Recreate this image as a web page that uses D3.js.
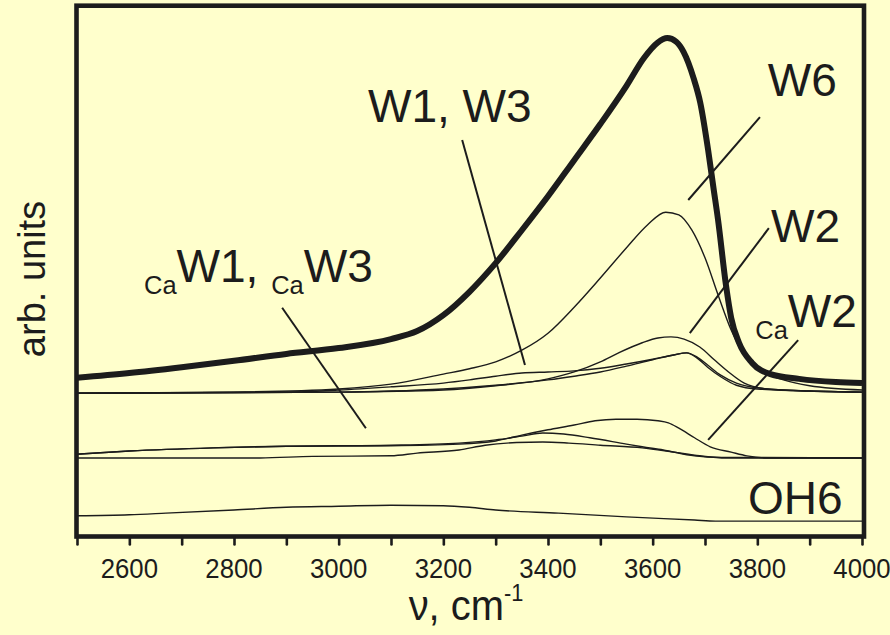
<!DOCTYPE html>
<html>
<head>
<meta charset="utf-8">
<script src="https://cdn.jsdelivr.net/npm/d3@7"></script>
<style>
  html, body { margin: 0; padding: 0; background: #FFFFCC; }
  svg { display: block; }
  text { font-family: "Liberation Sans", Arial, sans-serif; fill: #1c1c1c; }
</style>
</head>
<body>
<svg id="chart" width="890" height="635"></svg>
<script>
// Wavenumber axis (cm^-1)
const xDomain = [2500, 4000];
const xTickValues = [2500, 2600, 2700, 2800, 2900, 3000, 3100, 3200, 3300, 3400, 3500, 3600, 3700, 3800, 3900, 4000];
const xTickLabels = [2600, 2800, 3000, 3200, 3400, 3600, 3800, 4000];
const yDomain = [0, 10];

// Spectra, already vertically offset: [wavenumber, intensity (arb. units)]
const totalSpectrum = [
  [2500, 2.99], [2600, 3.08], [2700, 3.19], [2800, 3.31], [2900, 3.44], [3000, 3.55],
  [3100, 3.72], [3150, 3.87], [3200, 4.17], [3250, 4.61], [3300, 5.15], [3350, 5.77],
  [3400, 6.41], [3450, 7.09], [3500, 7.77], [3550, 8.49], [3583, 9.01], [3609, 9.30],
  [3628, 9.39], [3645, 9.32], [3659, 9.13], [3678, 8.64], [3691, 8.17], [3706, 7.28],
  [3716, 6.58], [3725, 5.96], [3740, 4.74], [3750, 4.12], [3765, 3.65], [3790, 3.27],
  [3825, 3.06], [3880, 2.97], [3950, 2.91], [4000, 2.89]
];
const w6 = [
  [2500, 2.70], [2800, 2.72], [3000, 2.78], [3100, 2.87], [3200, 3.06], [3250, 3.16],
  [3300, 3.29], [3350, 3.51], [3400, 3.83], [3450, 4.32], [3500, 4.87], [3550, 5.44],
  [3590, 5.87], [3625, 6.11], [3650, 6.06], [3675, 5.77], [3700, 5.25], [3725, 4.55],
  [3750, 3.89], [3775, 3.42], [3800, 3.16], [3850, 2.95], [3900, 2.84], [4000, 2.76]
];
const w2 = [
  [2500, 2.70], [3000, 2.72], [3200, 2.76], [3300, 2.84], [3400, 2.97], [3450, 3.10],
  [3500, 3.29], [3535, 3.46], [3580, 3.65], [3610, 3.74], [3635, 3.76], [3660, 3.72],
  [3690, 3.57], [3720, 3.31], [3745, 3.10], [3775, 2.89], [3820, 2.78], [3900, 2.74], [4000, 2.72]
];
const w1 = [
  [2500, 2.70], [2900, 2.72], [3000, 2.76], [3100, 2.82], [3200, 2.89], [3250, 2.95],
  [3300, 3.02], [3350, 3.08], [3400, 3.10], [3450, 3.12], [3500, 3.17], [3550, 3.25],
  [3600, 3.34], [3640, 3.42], [3665, 3.46], [3685, 3.38], [3705, 3.23], [3730, 3.04],
  [3760, 2.89], [3800, 2.80], [3900, 2.74], [4000, 2.72]
];
const w3 = [
  [2500, 2.70], [3000, 2.72], [3100, 2.74], [3200, 2.78], [3300, 2.85], [3400, 2.95],
  [3450, 3.02], [3500, 3.10], [3550, 3.21], [3600, 3.33], [3640, 3.42], [3665, 3.46],
  [3685, 3.36], [3705, 3.19], [3730, 3.01], [3760, 2.85], [3800, 2.78], [4000, 2.72]
];
const caW1 = [
  [2500, 1.55], [2600, 1.61], [2760, 1.67], [2900, 1.70], [3100, 1.72], [3230, 1.76],
  [3300, 1.82], [3350, 1.89], [3390, 1.95], [3430, 1.93], [3480, 1.86], [3550, 1.74],
  [3580, 1.69], [3620, 1.63], [3680, 1.52], [3730, 1.49], [4000, 1.48]
];
const caW3 = [
  [2500, 1.48], [2850, 1.48], [2950, 1.51], [3100, 1.52], [3150, 1.57], [3230, 1.63],
  [3280, 1.72], [3340, 1.77], [3390, 1.78], [3440, 1.76], [3500, 1.72], [3580, 1.67],
  [3640, 1.59], [3690, 1.52], [3740, 1.48], [4000, 1.48]
];
const caW2 = [
  [2500, 1.55], [2600, 1.61], [2760, 1.67], [2900, 1.70], [3100, 1.71], [3230, 1.74],
  [3300, 1.80], [3350, 1.91], [3400, 2.01], [3450, 2.10], [3490, 2.18], [3530, 2.21],
  [3570, 2.21], [3610, 2.18], [3630, 2.14], [3650, 2.04], [3680, 1.86], [3710, 1.69],
  [3750, 1.59], [3780, 1.52], [3820, 1.48], [4000, 1.48]
];
const oh6 = [
  [2500, 0.39], [2600, 0.41], [2670, 0.44], [2800, 0.50], [2900, 0.55], [3000, 0.57],
  [3100, 0.59], [3200, 0.58], [3250, 0.55], [3300, 0.50], [3420, 0.44], [3550, 0.37],
  [3680, 0.31], [3720, 0.29], [4000, 0.29]
];

const thinSeries = [w6, w2, w1, w3, caW1, caW3, caW2, oh6];

// Leader lines from labels to curves: [[ν1, v1], [ν2, v2]]
const leaders = [
  [[3236, 7.47], [3356, 3.23]],   // W1, W3
  [[3805, 7.90], [3668, 6.34]],   // W6
  [[3822, 5.81], [3671, 3.83]],   // W2
  [[3878, 3.70], [3706, 1.82]],   // CaW2
  [[2892, 4.31], [3052, 2.04]]    // CaW1, CaW3
];

// Labels: anchor [ν, v] at text start/baseline; parts are [text, isSubscript]
const labels = [
  { at: [3056, 7.81], parts: [["W1, W3", false]] },
  { at: [3820, 8.30], parts: [["W6", false]] },
  { at: [3826, 5.55], parts: [["W2", false]] },
  { at: [3796, 3.95], parts: [["Ca", true], ["W2", false]] },
  { at: [2628, 4.80], parts: [["Ca", true], ["W1, ", false], ["Ca", true], ["W3", false]] },
  { at: [3782, 0.42], parts: [["OH6", false]] }
];

const svg = d3.select("#chart");
const W = 890, H = 635;
const frame = { left: 76.5, right: 864, top: 5.7, bottom: 536.5 };
const ink = "#1c1c1c";

svg.append("rect").attr("width", W).attr("height", H).attr("fill", "#FFFFCC");

const x = d3.scaleLinear().domain(xDomain).range([77, 862]);
const y = d3.scaleLinear().domain(yDomain).range([frame.bottom, frame.top]);

const line = d3.line()
  .x(d => x(d[0]))
  .y(d => y(d[1]))
  .curve(d3.curveMonotoneX);

const plot = svg.append("g");

// thin component spectra
plot.selectAll("path.thin")
  .data(thinSeries)
  .join("path")
  .attr("class", "thin")
  .attr("d", line)
  .attr("fill", "none")
  .attr("stroke", ink)
  .attr("stroke-width", 1.4);

// total spectrum
plot.append("path")
  .datum(totalSpectrum)
  .attr("d", line)
  .attr("fill", "none")
  .attr("stroke", ink)
  .attr("stroke-width", 6)
  .attr("stroke-linejoin", "round");

// leader lines
plot.selectAll("line.leader")
  .data(leaders)
  .join("line")
  .attr("class", "leader")
  .attr("x1", d => x(d[0][0])).attr("y1", d => y(d[0][1]))
  .attr("x2", d => x(d[1][0])).attr("y2", d => y(d[1][1]))
  .attr("stroke", ink)
  .attr("stroke-width", 2);

// curve labels
const labelSize = 47, subSize = 26;
labels.forEach(l => {
  const g = svg.append("g")
    .attr("transform", `translate(${x(l.at[0])},${y(l.at[1])}) scale(0.98,1)`);
  const t = g.append("text").attr("font-size", labelSize);
  l.parts.forEach(([s, sub]) => {
    t.append("tspan")
      .attr("font-size", sub ? subSize : labelSize)
      .attr("baseline-shift", sub ? "-0.45em" : null)
      .text(s);
  });
});

// frame
svg.append("rect")
  .attr("x", frame.left).attr("y", frame.top)
  .attr("width", frame.right - frame.left)
  .attr("height", frame.bottom - frame.top)
  .attr("fill", "none")
  .attr("stroke", ink)
  .attr("stroke-width", 4.6);

// x axis ticks and labels
const axis = d3.axisBottom(x)
  .tickValues(xTickValues)
  .tickSize(6.5)
  .tickPadding(0)
  .tickFormat(() => "");
const axG = svg.append("g")
  .attr("transform", `translate(0,${frame.bottom + 1.5})`)
  .call(axis);
axG.select(".domain").remove();
axG.selectAll(".tick line")
  .attr("stroke", ink)
  .attr("stroke-width", 2.6)
  .attr("stroke-linecap", "round");

svg.append("g").selectAll("g")
  .data(xTickLabels)
  .join("g")
  .attr("transform", d => `translate(${x(d)},578) scale(0.92,1)`)
  .append("text")
  .attr("text-anchor", "middle")
  .attr("font-size", 28)
  .text(d => d);

// axis titles
const xt = svg.append("g").attr("transform", "translate(466,620) scale(0.95,1)")
  .append("text").attr("text-anchor", "middle").attr("font-size", 42);
xt.append("tspan").text("ν, cm");
xt.append("tspan").attr("font-size", 23).attr("baseline-shift", "0.85em").text("-1");

svg.append("g").attr("transform", "translate(45,279) rotate(-90)")
  .append("text")
  .attr("text-anchor", "middle")
  .attr("font-size", 38)
  .text("arb. units");
</script>
</body>
</html>
